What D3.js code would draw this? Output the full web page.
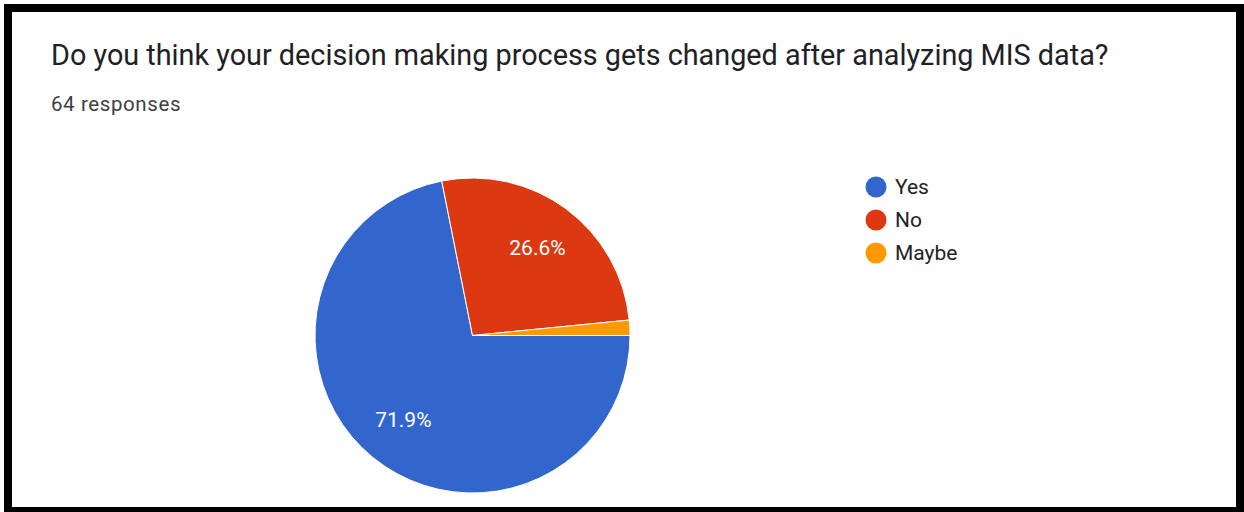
<!DOCTYPE html>
<html>
<head>
<meta charset="utf-8">
<script src="https://cdn.jsdelivr.net/npm/d3@7"></script>
<style>
  body { margin: 0; background: #fff; }
  text { font-family: Roboto, "Noto Sans", sans-serif; }
</style>
</head>
<body>
<script>
const width = 1244;
const height = 512;

const title = "Do you think your decision making process gets changed after analyzing MIS data?";
const subtitle = "64 responses";
const answers = ["Yes", "No", "Maybe"];
const counts = [46, 17, 1];
const colors = ["#3366cc", "#dc3912", "#ff9900"];

const cx = 472.5;
const cy = 335.5;
const radius = 157.5;

const svg = d3
  .select("body")
  .append("svg")
  .attr("width", width)
  .attr("height", height);

// black frame round the card
svg.append("rect")
  .attr("x", 8)
  .attr("y", 8)
  .attr("width", 1232)
  .attr("height", 503)
  .attr("fill", "#fff")
  .attr("stroke", "#000")
  .attr("stroke-width", 8);

svg.append("text")
  .attr("x", 51)
  .attr("y", 65)
  .attr("font-size", 28.8)
  .attr("fill", "#202124")
  .text(title);

svg.append("text")
  .attr("x", 51)
  .attr("y", 111)
  .attr("font-size", 20.5)
  .attr("letter-spacing", 0.6)
  .attr("fill", "#3c4043")
  .text(subtitle);

const total = d3.sum(counts);
const data = answers.map(function(a, i) {
  return { answer: a, count: counts[i], color: colors[i] };
});

const pie = d3.pie()
  .sort(null)
  .value(function(d) { return d.count; })
  .startAngle(Math.PI / 2)
  .endAngle(Math.PI / 2 + 2 * Math.PI);

const arc = d3.arc().innerRadius(0).outerRadius(radius);
const labelArc = d3.arc().innerRadius(109).outerRadius(109);

const g = svg.append("g").attr("transform", `translate(${cx}, ${cy})`);

const arcs = pie(data);

g.selectAll("path")
  .data(arcs)
  .enter()
  .append("path")
  .attr("d", arc)
  .attr("fill", function(d) { return d.data.color; })
  .attr("stroke", "#fff")
  .attr("stroke-width", 1);

g.selectAll("text.pct")
  .data(arcs.filter(function(d) { return d.data.count / total > 0.05; }))
  .enter()
  .append("text")
  .attr("class", "pct")
  .attr("transform", function(d) { return `translate(${labelArc.centroid(d)})`; })
  .attr("text-anchor", "middle")
  .attr("dy", "0.35em")
  .attr("font-size", 21)
  .attr("fill", "#fff")
  .text(function(d) { return d3.format(".1f")(d.data.count / total * 100) + "%"; });

// legend
const legend = svg.append("g")
  .attr("transform", "translate(876, 187)")
  .selectAll("g")
  .data(data)
  .enter()
  .append("g")
  .attr("transform", function(d, i) { return `translate(0, ${i * 33})`; });

legend.append("circle")
  .attr("r", 10.5)
  .attr("fill", function(d) { return d.color; });

legend.append("text")
  .attr("x", 19)
  .attr("dy", "0.35em")
  .attr("font-size", 21)
  .attr("fill", "#222")
  .text(function(d) { return d.answer; });
</script>
</body>
</html>
